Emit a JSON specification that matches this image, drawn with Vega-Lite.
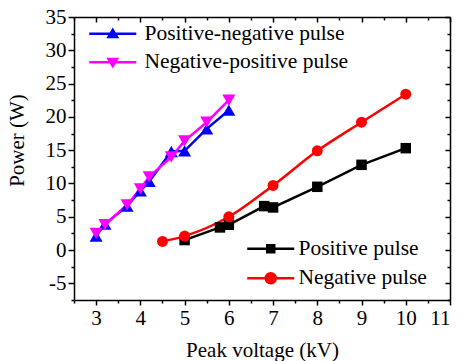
{
  "$schema": "https://vega.github.io/schema/vega-lite/v6.json",
  "width": 376,
  "height": 283,
  "autosize": {"type": "none"},
  "padding": {"left": 74, "top": 17, "right": 13, "bottom": 61},
  "background": "white",
  "config": {
    "view": {"stroke": null},
    "font": "Liberation Serif",
    "axis": {
      "grid": false,
      "labelFont": "Liberation Serif",
      "labelFontSize": 21,
      "labelColor": "#000000",
      "titleFont": "Liberation Serif",
      "titleFontSize": 21,
      "titleFontWeight": "normal",
      "titleColor": "#000000",
      "domainColor": "#000000",
      "domainWidth": 1.5,
      "tickColor": "#000000",
      "tickWidth": 1.5,
      "labelPadding": 2
    },
    "legend": {
      "labelFont": "Liberation Serif",
      "labelFontSize": 21.5,
      "labelColor": "#000000",
      "labelLimit": 400,
      "padding": 0,
      "offset": 0
    }
  },
  "datasets": {
    "A": [
      {"series": "Positive-negative pulse", "kv": 3.0, "power": 2.1},
      {"series": "Positive-negative pulse", "kv": 3.2, "power": 3.9},
      {"series": "Positive-negative pulse", "kv": 3.7, "power": 6.6},
      {"series": "Positive-negative pulse", "kv": 4.0, "power": 8.9},
      {"series": "Positive-negative pulse", "kv": 4.2, "power": 10.3},
      {"series": "Positive-negative pulse", "kv": 4.7, "power": 14.8},
      {"series": "Positive-negative pulse", "kv": 5.0, "power": 14.9},
      {"series": "Positive-negative pulse", "kv": 5.5, "power": 18.2},
      {"series": "Positive-negative pulse", "kv": 6.0, "power": 21.0},
      {"series": "Negative-positive pulse", "kv": 3.0, "power": 2.5},
      {"series": "Negative-positive pulse", "kv": 3.2, "power": 3.8},
      {"series": "Negative-positive pulse", "kv": 3.7, "power": 6.8},
      {"series": "Negative-positive pulse", "kv": 4.0, "power": 9.2},
      {"series": "Negative-positive pulse", "kv": 4.2, "power": 11.0},
      {"series": "Negative-positive pulse", "kv": 4.7, "power": 14.0},
      {"series": "Negative-positive pulse", "kv": 5.0, "power": 16.4},
      {"series": "Negative-positive pulse", "kv": 5.5, "power": 19.2},
      {"series": "Negative-positive pulse", "kv": 6.0, "power": 22.5}
    ],
    "B": [
      {"series": "Positive pulse", "kv": 5.0, "power": 1.5},
      {"series": "Positive pulse", "kv": 5.8, "power": 3.4},
      {"series": "Positive pulse", "kv": 6.0, "power": 3.8},
      {"series": "Positive pulse", "kv": 6.8, "power": 6.6},
      {"series": "Positive pulse", "kv": 7.0, "power": 6.4},
      {"series": "Positive pulse", "kv": 8.0, "power": 9.5},
      {"series": "Positive pulse", "kv": 9.0, "power": 12.8},
      {"series": "Positive pulse", "kv": 10.0, "power": 15.3},
      {"series": "Negative pulse", "kv": 4.5, "power": 1.3},
      {"series": "Negative pulse", "kv": 5.0, "power": 2.1},
      {"series": "Negative pulse", "kv": 6.0, "power": 5.0},
      {"series": "Negative pulse", "kv": 7.0, "power": 9.7},
      {"series": "Negative pulse", "kv": 8.0, "power": 14.9},
      {"series": "Negative pulse", "kv": 9.0, "power": 19.2},
      {"series": "Negative pulse", "kv": 10.0, "power": 23.4}
    ]
  },
  "layer": [
    {
      "data": {"name": "A"},
      "encoding": {
        "x": {
          "field": "kv", "type": "quantitative",
          "scale": {"domain": [2.5, 11], "nice": false, "zero": false},
          "axis": {
            "orient": "bottom",
            "title": "Peak voltage (kV)",
            "values": [2.5, 3, 3.5, 4, 4.5, 5, 5.5, 6, 6.5, 7, 7.5, 8, 8.5, 9, 9.5, 10, 10.5, 11],
            "labelExpr": "datum.value % 1 === 0 ? '' + datum.value : ''",
            "tickSize": {"condition": {"test": "datum.value % 1 === 0", "value": 5}, "value": 3},
            "titleY": 56,
            "titleBaseline": "alphabetic"
          }
        },
        "y": {
          "field": "power", "type": "quantitative",
          "scale": {"domain": [-7.5, 35], "nice": false, "zero": false},
          "axis": {
            "orient": "left",
            "title": "Power (W)",
            "values": [-7.5, -5, -2.5, 0, 2.5, 5, 7.5, 10, 12.5, 15, 17.5, 20, 22.5, 25, 27.5, 30, 32.5, 35],
            "labelExpr": "datum.value % 5 === 0 ? '' + datum.value : ''",
            "tickSize": {"condition": {"test": "datum.value % 5 === 0", "value": 6}, "value": 3},
            "titleX": -51,
            "titleY": 123,
            "titleBaseline": "alphabetic",
            "titleAlign": "center"
          }
        },
        "color": {
          "field": "series", "type": "nominal",
          "scale": {"domain": ["Positive-negative pulse", "Negative-positive pulse"], "range": ["#0000ff", "#ff00ff"]},
          "legend": {
            "title": null,
            "orient": "none",
            "legendX": 28,
            "legendY": 6,
            "symbolSize": 100,
            "symbolStrokeWidth": 2.5,
            "symbolType": "M-4.7,0H4.7M0,-0.75L0.85,0.65L-0.85,0.65Z",
            "labelOffset": 21,
            "rowPadding": 5.5,
            "encoding": {
              "symbols": {
                "shape": {"condition": {"test": "datum.value == 'Positive-negative pulse'", "value": "M-4.7,0H4.7M0,-0.75L0.85,0.65L-0.85,0.65Z"}, "value": "M-4.7,0H4.7M0,0.75L0.85,-0.65L-0.85,-0.65Z"},
                "strokeWidth": {"value": 2.5},
                "opacity": {"value": 1}
              }
            }
          }
        }
      },
      "layer": [
        {"mark": {"type": "line", "strokeWidth": 2.5}},
        {
          "transform": [{"filter": "datum.series == 'Positive-negative pulse'"}],
          "mark": {"type": "point", "filled": true, "opacity": 1, "size": 170, "shape": "triangle-up"}
        },
        {
          "transform": [{"filter": "datum.series == 'Negative-positive pulse'"}],
          "mark": {"type": "point", "filled": true, "opacity": 1, "size": 170, "shape": "triangle-down"}
        }
      ]
    },
    {
      "data": {"name": "B"},
      "encoding": {
        "x": {
          "field": "kv", "type": "quantitative",
          "scale": {"domain": [2.5, 11], "nice": false, "zero": false},
          "axis": {
            "orient": "top",
            "title": null,
            "labels": false,
            "values": [2.5, 3, 3.5, 4, 4.5, 5, 5.5, 6, 6.5, 7, 7.5, 8, 8.5, 9, 9.5, 10, 10.5, 11],
            "tickSize": {"condition": {"test": "datum.value % 1 === 0", "value": -5}, "value": -3}
          }
        },
        "y": {
          "field": "power", "type": "quantitative",
          "scale": {"domain": [-7.5, 35], "nice": false, "zero": false},
          "axis": {
            "orient": "right",
            "title": null,
            "labels": false,
            "values": [-7.5, -5, -2.5, 0, 2.5, 5, 7.5, 10, 12.5, 15, 17.5, 20, 22.5, 25, 27.5, 30, 32.5, 35],
            "tickSize": {"condition": {"test": "datum.value % 5 === 0", "value": -5}, "value": -3}
          }
        },
        "color": {
          "field": "series", "type": "nominal",
          "scale": {"domain": ["Positive pulse", "Negative pulse"], "range": ["#000000", "#ff0000"]},
          "legend": {
            "title": null,
            "orient": "none",
            "legendX": 186,
            "legendY": 221,
            "symbolSize": 100,
            "symbolStrokeWidth": 2.5,
            "symbolType": "M-4.7,0H4.7M-0.7,-0.7H0.7V0.7H-0.7Z",
            "labelOffset": 17,
            "rowPadding": 6.5,
            "encoding": {
              "symbols": {
                "shape": {"condition": {"test": "datum.value == 'Positive pulse'", "value": "M-4.7,0H4.7M-0.7,-0.7H0.7V0.7H-0.7Z"}, "value": "M-4.7,0H4.7M1,0A1,1,0,1,1,-1,0A1,1,0,1,1,1,0Z"},
                "strokeWidth": {"value": 2.5},
                "opacity": {"value": 1}
              }
            }
          }
        }
      },
      "layer": [
        {
          "transform": [{"filter": "datum.series == 'Positive pulse'"}],
          "mark": {"type": "line", "strokeWidth": 2.5, "interpolate": "linear"}
        },
        {
          "transform": [{"filter": "datum.series == 'Negative pulse'"}],
          "mark": {"type": "line", "strokeWidth": 2.5, "interpolate": "monotone"}
        },
        {
          "transform": [{"filter": "datum.series == 'Positive pulse'"}],
          "mark": {"type": "point", "filled": true, "opacity": 1, "size": 110, "shape": "square"}
        },
        {
          "transform": [{"filter": "datum.series == 'Negative pulse'"}],
          "mark": {"type": "point", "filled": true, "opacity": 1, "size": 120, "shape": "circle"}
        }
      ]
    }
  ],
  "resolve": {
    "scale": {"color": "independent"},
    "axis": {"x": "independent", "y": "independent"},
    "legend": {"color": "independent"}
  }
}
